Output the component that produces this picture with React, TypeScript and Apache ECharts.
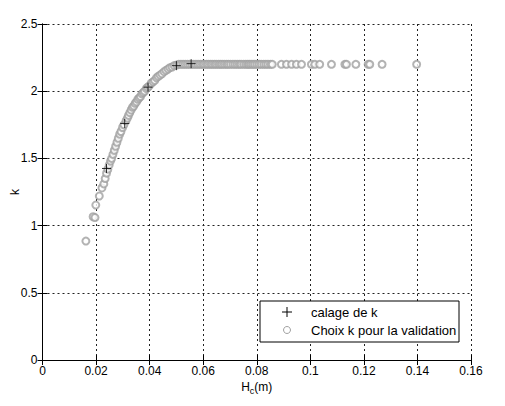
import React, { useEffect, useRef } from "react";
import * as echarts from "echarts";

// Calibration points (calage de k)
const calageH = [0.0239, 0.0307, 0.0394, 0.0500, 0.0555];
const calageK = [1.425, 1.76, 2.03, 2.19, 2.205];

// Validation choices (Choix k pour la validation)
const validH = [
  0.0162, 0.0189, 0.0196, 0.0199, 0.0212, 0.0222, 0.0229, 0.0234, 0.0239, 0.0244,
  0.0249, 0.0254, 0.0258, 0.0263, 0.0268, 0.0273, 0.0278, 0.0283, 0.0288, 0.0293,
  0.0299, 0.0304, 0.0312, 0.0317, 0.0321, 0.0326, 0.0331, 0.0336, 0.0341, 0.0346,
  0.0351, 0.0356, 0.0361, 0.0366, 0.0371, 0.0376, 0.0381, 0.0388, 0.0393, 0.0399,
  0.0406, 0.0413, 0.0419, 0.0426, 0.0432, 0.0439, 0.0446, 0.0454, 0.0461, 0.0469,
  0.0476, 0.0484, 0.0492, 0.0501, 0.0509, 0.0517, 0.0525, 0.0533, 0.0541, 0.0549,
  0.0557, 0.0565, 0.0573, 0.0581, 0.0589, 0.0597, 0.0604, 0.0612, 0.0619, 0.0627,
  0.0634, 0.0642, 0.0649, 0.0657, 0.0664, 0.0671, 0.0679, 0.0687, 0.0694, 0.0702,
  0.0711, 0.0719, 0.0727, 0.0735, 0.0742, 0.0751, 0.0759, 0.0766, 0.0772, 0.0779,
  0.0786, 0.0793, 0.0801, 0.0809, 0.0817, 0.0826, 0.0834, 0.0842, 0.0851, 0.0858,
  0.0892, 0.0911, 0.0930, 0.0948, 0.0967, 0.1004, 0.1017, 0.1035, 0.1079, 0.1129,
  0.1135, 0.1170, 0.1216, 0.1222, 0.1268, 0.1397,
];
const validK = [
  0.885, 1.066, 1.06, 1.153, 1.22, 1.28, 1.31, 1.35, 1.39, 1.42,
  1.45, 1.48, 1.5, 1.53, 1.56, 1.59, 1.62, 1.65, 1.68, 1.7,
  1.73, 1.75, 1.78, 1.8, 1.82, 1.84, 1.86, 1.88, 1.89, 1.91,
  1.92, 1.94, 1.95, 1.96, 1.98, 1.99, 2.0, 2.02, 2.03, 2.04,
  2.06, 2.07, 2.08, 2.1, 2.11, 2.12, 2.13, 2.145, 2.155, 2.165,
  2.175, 2.18, 2.19, 2.195, 2.2, 2.2, 2.2, 2.2, 2.2, 2.2,
  2.2, 2.2, 2.2, 2.2, 2.2, 2.2, 2.2, 2.2, 2.2, 2.2,
  2.2, 2.2, 2.2, 2.2, 2.2, 2.2, 2.2, 2.2, 2.2, 2.2,
  2.2, 2.2, 2.2, 2.2, 2.2, 2.2, 2.2, 2.2, 2.2, 2.2,
  2.2, 2.2, 2.2, 2.2, 2.2, 2.2, 2.2, 2.2, 2.2, 2.2,
  2.2, 2.2, 2.2, 2.2, 2.2, 2.2, 2.2, 2.2, 2.2, 2.2,
  2.2, 2.2, 2.2, 2.2, 2.2, 2.2,
];

const xTicks = ["0", "0.02", "0.04", "0.06", "0.08", "0.1", "0.12", "0.14", "0.16"];
const yTicks = ["0", "0.5", "1", "1.5", "2", "2.5"];
const seriesNames = ["calage de k", "Choix k pour la validation"];

const FONT = "'Liberation Sans', Arial, sans-serif";
const CROSS = "path://M0,5L10,5M5,0L5,10";

export default function App() {
  const ref = useRef<HTMLDivElement>(null);
  useEffect(() => {
    if (!ref.current) return;
    const chart = echarts.init(ref.current, undefined, { renderer: "svg" });
    const gridLine = { show: true, lineStyle: { color: "#222", type: [2, 3] as any, width: 1 } };
    const axisLine = { show: true, lineStyle: { color: "#000", width: 1 } };
    const tick = { show: true, inside: true, length: 5, lineStyle: { color: "#000" } };
    chart.setOption({
      animation: false,
      backgroundColor: "#fff",
      grid: {
        left: 42.5, right: 34, top: 24, bottom: 46,
        containLabel: false, outerBoundsMode: "none",
      },
      xAxis: [
        {
          type: "value", min: 0, max: 0.16, interval: 0.02,
          axisLine, axisTick: tick, splitLine: gridLine,
          axisLabel: {
            color: "#000", fontFamily: FONT, fontSize: 12, margin: 5,
            formatter: (v: number) => xTicks[Math.round(v / 0.02)] ?? "",
          },
          name: "H{sub|c}(m)", nameLocation: "middle", nameGap: 19, nameMoveOverlap: false,
          nameTextStyle: {
            color: "#000", fontFamily: FONT, fontSize: 12, verticalAlign: "top",
            rich: { sub: { fontSize: 9, fontFamily: FONT, color: "#000", padding: [7, 0, 0, 0] } },
          },
        },
        {
          type: "value", position: "top", min: 0, max: 0.16, interval: 0.02,
          axisLine, axisTick: tick, splitLine: { show: false }, axisLabel: { show: false },
        },
      ],
      yAxis: [
        {
          type: "value", min: 0, max: 2.5, interval: 0.5,
          axisLine, axisTick: tick, splitLine: gridLine,
          axisLabel: {
            color: "#000", fontFamily: FONT, fontSize: 12, margin: 5,
            formatter: (v: number) => yTicks[Math.round(v / 0.5)] ?? "",
          },
          name: "k", nameLocation: "middle", nameGap: 22, nameRotate: 90, nameMoveOverlap: false,
          nameTextStyle: { color: "#000", fontFamily: FONT, fontSize: 12 },
        },
        {
          type: "value", position: "right", min: 0, max: 2.5, interval: 0.5,
          axisLine, axisTick: tick, splitLine: { show: false }, axisLabel: { show: false },
        },
      ],
      series: [
        {
          name: seriesNames[1],
          type: "scatter",
          symbol: "emptyCircle",
          symbolSize: 7,
          itemStyle: { color: "#a0a0a0", borderColor: "#a0a0a0", borderWidth: 1 },
          data: validH.map((h, i) => [h, validK[i]]),
          z: 2,
        },
        {
          name: seriesNames[0],
          type: "scatter",
          symbol: CROSS,
          symbolSize: 9,
          itemStyle: { color: "none", borderColor: "#000", borderWidth: 1 },
          data: calageH.map((h, i) => [h, calageK[i]]),
          z: 3,
        },
      ],
      graphic: [
        {
          type: "rect",
          shape: { x: 260, y: 301, width: 199, height: 41 },
          style: { fill: "#fff", stroke: "#000", lineWidth: 1 },
          z: 10,
        },
        { type: "line", shape: { x1: 282, y1: 312, x2: 292, y2: 312 }, style: { stroke: "#000", lineWidth: 1 }, z: 11 },
        { type: "line", shape: { x1: 287, y1: 307, x2: 287, y2: 317 }, style: { stroke: "#000", lineWidth: 1 }, z: 11 },
        { type: "circle", shape: { cx: 287, cy: 330, r: 3.5 }, style: { fill: "none", stroke: "#a0a0a0", lineWidth: 1 }, z: 11 },
        {
          type: "text", x: 311, y: 312, z: 11,
          style: { text: seriesNames[0], fill: "#000", font: `13px ${FONT}`, verticalAlign: "middle" },
        },
        {
          type: "text", x: 311, y: 330, z: 11,
          style: { text: seriesNames[1], fill: "#000", font: `13px ${FONT}`, verticalAlign: "middle" },
        },
      ],
    });
    return () => chart.dispose();
  }, []);
  return (
    <div
      ref={ref}
      style={{ position: "fixed", left: 0, top: 0, width: 505, height: 406, background: "#fff" }}
    />
  );
}
